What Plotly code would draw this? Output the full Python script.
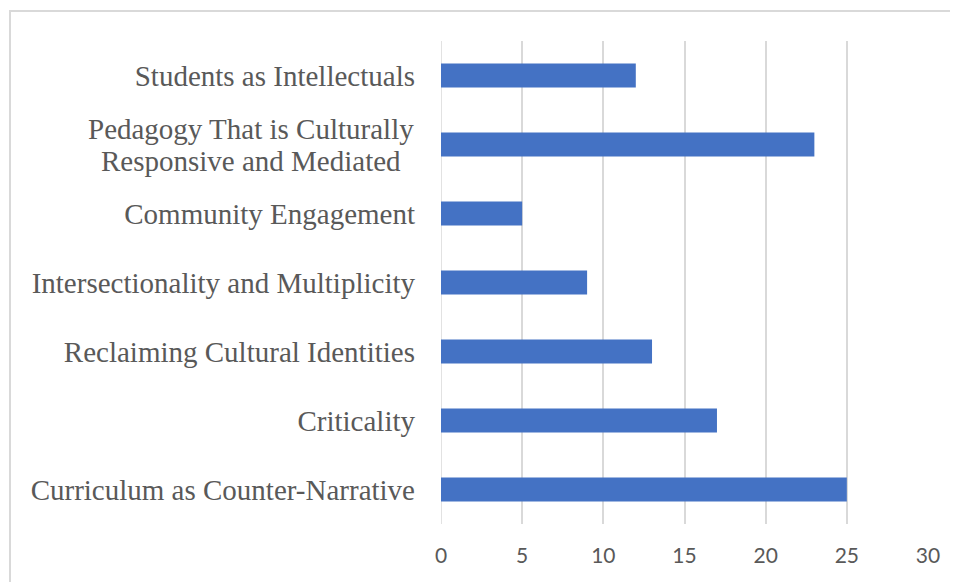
import plotly.graph_objects as go

categories = [
    "Curriculum as Counter-Narrative",
    "Criticality",
    "Reclaiming Cultural Identities",
    "Intersectionality and Multiplicity",
    "Community Engagement",
    "Pedagogy That is Culturally Responsive and Mediated",
    "Students as Intellectuals",
]
values = [25, 17, 13, 9, 5, 23, 12]
x_ticks = [0, 5, 10, 15, 20, 25, 30]
wrapped = {
    "Pedagogy That is Culturally Responsive and Mediated": [
        "Pedagogy That is Culturally",
        "Responsive and Mediated",
    ]
}

tick_text = ["" if c in wrapped else c for c in categories]

LABEL_FONT = dict(family="Liberation Serif, Times New Roman, serif", size=29, color="#595959")

fig = go.Figure(
    go.Bar(
        y=categories,
        x=values,
        orientation="h",
        marker=dict(color="#4472C4", line=dict(width=0)),
        width=0.35,
    )
)

# page has an 8px body margin; figure sized so the plot lands where the reference has it
W, H = 950, 574
fig.update_layout(
    width=W,
    height=H,
    margin=dict(l=433, r=30, t=33, b=58),
    paper_bgcolor="white",
    plot_bgcolor="white",
    showlegend=False,
    shapes=[
        dict(
            type="rect", xref="paper", yref="paper",
            x0=-431 / 487, x1=1.2, y0=-0.2, y1=1 + 30 / 483,
            line=dict(color="#d9d9d9", width=2), fillcolor="rgba(0,0,0,0)",
            layer="below",
        )
    ],
)

for cat, lines in wrapped.items():
    for i, line in enumerate(lines):
        fig.add_annotation(
            xref="paper", yref="y", x=(251 - 441) / 487, y=cat,
            text=line, showarrow=False, xanchor="center", yanchor="middle",
            yshift=16 - 32 * i, font=LABEL_FONT,
        )

fig.update_xaxes(
    range=[0, 30],
    tickvals=x_ticks,
    showgrid=True,
    gridcolor="#d9d9d9",
    gridwidth=1.5,
    zeroline=False,
    showline=False,
    tickfont=dict(family="Lato, Liberation Sans, Arial", size=21, color="#595959"),
    ticklabelstandoff=17,
)
fig.update_yaxes(
    tickvals=categories,
    ticktext=tick_text,
    showgrid=False,
    zeroline=False,
    showline=False,
    tickfont=LABEL_FONT,
    ticklabelstandoff=25,
)
fig.add_vline(x=0, line=dict(color="#d9d9d9", width=1.5), layer="below")

fig.write_html("out.html")
